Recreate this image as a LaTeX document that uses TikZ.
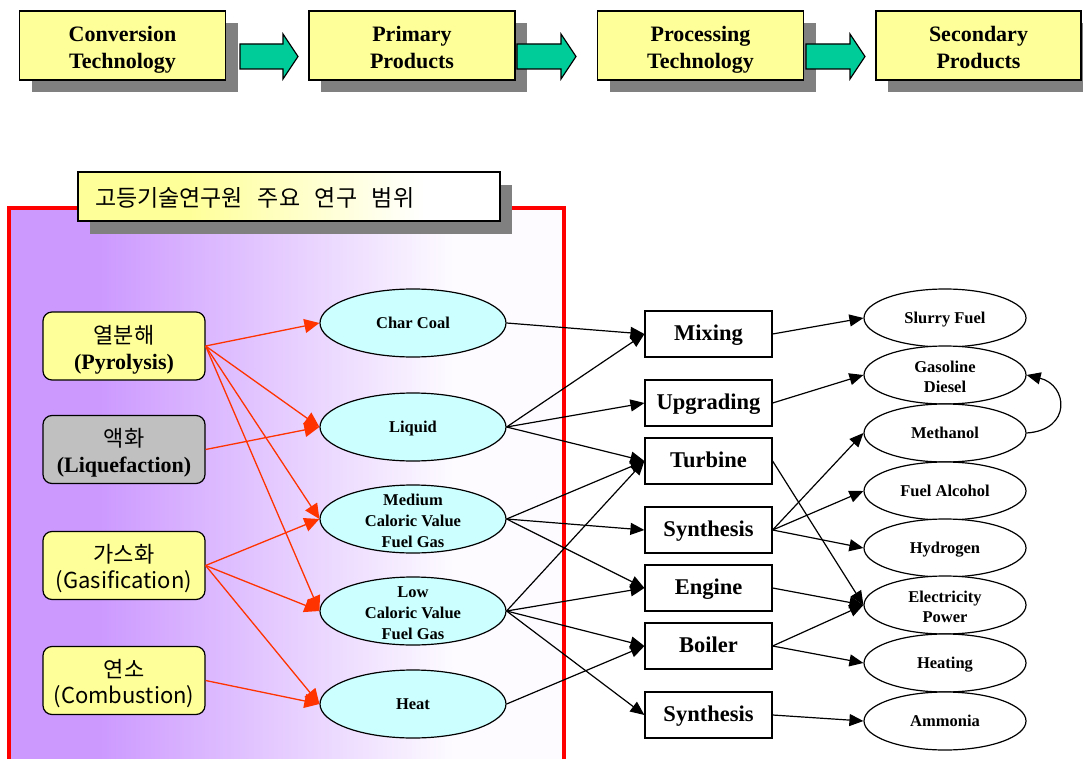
\documentclass[tikz,border=0pt]{standalone}
\usepackage{fontspec}
\setmainfont{Liberation Serif}
\newfontfamily\krfont{Noto Sans CJK KR}
\usetikzlibrary{arrows.meta,shapes.geometric,shadows}
\definecolor{yel}{HTML}{FFFF99}
\definecolor{cyn}{HTML}{CCFFFF}
\definecolor{gry}{HTML}{C0C0C0}
\definecolor{grn}{HTML}{00CC99}
\definecolor{pur}{HTML}{CC99FF}
\definecolor{shd}{HTML}{808080}
\definecolor{redarrow}{HTML}{FF3300}
\colorlet{purwhite}{white!96!pur}
\pgfdeclarehorizontalshading{purplefade}{100bp}{color(0bp)=(pur); color(33bp)=(pur); color(65bp)=(purwhite); color(100bp)=(purwhite)}
\pgfdeclarehorizontalshading{yellowfade}{100bp}{color(0bp)=(yel); color(38bp)=(yel); color(66bp)=(white); color(100bp)=(white)}
\newcommand{\lbl}[2]{\raisebox{#1}[0pt][0pt]{\begin{tabular}{@{}c@{}}#2\end{tabular}}}
\begin{document}
\begin{tikzpicture}[x=1pt,y=-1pt,
  topbox/.style={draw=black, line width=1.2pt, fill=yel, minimum width=206pt, minimum height=69pt,
    inner sep=0pt, font=\bfseries\fontsize{22}{27}\selectfont,
    drop shadow={shadow xshift=12pt, shadow yshift=-12pt, fill=shd, opacity=1}},
  blockarr/.style={draw=black, line width=1.2pt, fill=grn},
  titlebox/.style={draw=black, line width=1.2pt, shading=yellowfade, minimum height=49pt,
    text width=388pt, inner xsep=17pt, inner ysep=0pt, align=left,
    text height=20pt, text depth=0pt,
    font=\krfont\fontsize{23}{27}\selectfont,
    drop shadow={shadow xshift=12pt, shadow yshift=-13pt, fill=shd, opacity=1}},
  srcbox/.style={draw=black, line width=1.2pt, rounded corners=9pt, minimum width=162pt, minimum height=68pt,
    inner sep=0pt, font=\fontsize{22}{26}\selectfont},
  prim/.style={ellipse, draw=black, line width=1.2pt, fill=cyn, minimum width=186pt, minimum height=68pt,
    inner sep=0pt, text height=11pt, text depth=0pt, font=\bfseries\fontsize{16.5}{21}\selectfont},
  proc/.style={draw=black, line width=1.2pt, fill=white, minimum width=127pt, minimum height=46pt,
    inner sep=0pt, text height=12pt, text depth=0pt, font=\bfseries\fontsize{22.5}{27}\selectfont},
  prod/.style={ellipse, draw=black, line width=1.2pt, fill=white, minimum width=162pt, minimum height=58pt,
    inner sep=0pt, text height=11pt, text depth=0pt, font=\bfseries\fontsize{16.5}{20}\selectfont},
  flat/.style={text height=0pt, text depth=0pt},
  redarr/.style={draw=redarrow, line width=1.3pt, -{Triangle[length=15pt,width=14pt]}},
  blkarr/.style={draw=black, line width=1.2pt, -{Triangle[length=14pt,width=12pt]}}
]
\useasboundingbox (0,0) rectangle (1083,759);

% research scope frame
\shade[shading=purplefade] (9,208) rectangle (564,775);
\draw[red, line width=4pt] (9,780) -- (9,208) -- (564,208) -- (564,780);

% top flow
\node[topbox] (conv) at (122.5,45.5) {\lbl{-9.5pt}{Conversion\\Technology}};
\node[topbox] (primp) at (412,45.5) {\lbl{-9.5pt}{Primary\\Products}};
\node[topbox] (proct) at (700.5,45.5) {\lbl{-9.5pt}{Processing\\Technology}};
\node[topbox, minimum width=205pt] (secp) at (978.5,45.5) {\lbl{-9.5pt}{Secondary\\Products}};
\draw[blockarr] (240,44) -- (283,44) -- (283,34) -- (298,56.5) -- (283,79) -- (283,69) -- (240,69) -- cycle;
\draw[blockarr] (517,44) -- (561,44) -- (561,34) -- (576,56.5) -- (561,79) -- (561,69) -- (517,69) -- cycle;
\draw[blockarr] (806,44) -- (850,44) -- (850,34) -- (865,56.5) -- (850,79) -- (850,69) -- (806,69) -- cycle;

% title
\node[titlebox] (title) at (289,196.5) {고등기술연구원\hspace{0.64em}주요\hspace{0.64em}연구\hspace{0.64em}범위};

% conversion technologies
\node[srcbox, fill=yel] (pyro) at (124,346) {\lbl{-10.2pt}{{\krfont 열분해}\\\textbf{(Pyrolysis)}}};
\node[srcbox, fill=gry] (liqf) at (124,449.5) {\lbl{-10.2pt}{{\krfont 액화}\\\textbf{(Liquefaction)}}};
\node[srcbox, fill=yel] (gasf) at (124,565.5) {\lbl{-10.2pt}{{\krfont 가스화}\\{\krfont (Gasification)}}};
\node[srcbox, fill=yel] (comb) at (124,680.5) {\lbl{-10.2pt}{{\krfont 연소}\\{\krfont (Combustion)}}};

% primary products
\node[prim] (char) at (413,323) {Char Coal};
\node[prim] (liq) at (413,427) {Liquid};
\node[prim, flat] (med) at (413,519) {\lbl{-8.1pt}{Medium\\Caloric Value\\Fuel Gas}};
\node[prim, flat] (low) at (413,611) {\lbl{-8.1pt}{Low\\Caloric Value\\Fuel Gas}};
\node[prim] (heat) at (413,704) {Heat};

% processing technologies
\node[proc] (mix) at (708.5,334) {Mixing};
\node[proc] (upg) at (708.5,403) {Upgrading};
\node[proc] (turb) at (708.5,461) {Turbine};
\node[proc] (syn1) at (708.5,530) {Synthesis};
\node[proc] (eng) at (708.5,588) {Engine};
\node[proc] (boil) at (708.5,646) {Boiler};
\node[proc] (syn2) at (708.5,715) {Synthesis};

% secondary products
\node[prod] (slurry) at (945,318) {Slurry Fuel};
\node[prod, flat] (gasol) at (945,375) {\lbl{-8pt}{Gasoline\\Diesel}};
\node[prod] (meth) at (945,433) {Methanol};
\node[prod] (alc) at (945,491) {Fuel Alcohol};
\node[prod] (hyd) at (945,548) {Hydrogen};
\node[prod, flat] (elec) at (945,605) {\lbl{-8pt}{Electricity\\Power}};
\node[prod] (heating) at (945,663) {Heating};
\node[prod] (amm) at (945,721) {Ammonia};

% red connectors
\draw[redarr] (pyro.east) -- (char.west);
\draw[redarr] (pyro.east) -- (liq.west);
\draw[redarr] (pyro.east) -- (med.west);
\draw[redarr] (pyro.east) -- (low.west);
\draw[redarr] (liqf.east) -- (liq.west);
\draw[redarr] (gasf.east) -- (med.west);
\draw[redarr] (gasf.east) -- (low.west);
\draw[redarr] (gasf.east) -- (heat.west);
\draw[redarr] (comb.east) -- (heat.west);

% primary -> processing
\draw[blkarr] (char.east) -- (mix.west);
\draw[blkarr] (liq.east) -- (mix.west);
\draw[blkarr] (liq.east) -- (upg.west);
\draw[blkarr] (liq.east) -- (turb.west);
\draw[blkarr] (med.east) -- (turb.west);
\draw[blkarr] (med.east) -- (syn1.west);
\draw[blkarr] (med.east) -- (eng.west);
\draw[blkarr] (low.east) -- (turb.west);
\draw[blkarr] (low.east) -- (eng.west);
\draw[blkarr] (low.east) -- (boil.west);
\draw[blkarr] (low.east) -- (syn2.west);
\draw[blkarr] (heat.east) -- (boil.west);

% processing -> secondary
\draw[blkarr] (mix.east) -- (slurry.west);
\draw[blkarr] (upg.east) -- (gasol.west);
\draw[blkarr] (turb.east) -- (elec.west);
\draw[blkarr] (syn1.east) -- (meth.west);
\draw[blkarr] (syn1.east) -- (alc.west);
\draw[blkarr] (syn1.east) -- (hyd.west);
\draw[blkarr] (eng.east) -- (elec.west);
\draw[blkarr] (boil.east) -- (elec.west);
\draw[blkarr] (boil.east) -- (heating.west);
\draw[blkarr] (syn2.east) -- (amm.west);
\draw[blkarr] (meth.east) .. controls (1072,430) and (1068,385) .. (gasol.east);
\end{tikzpicture}
\end{document}
